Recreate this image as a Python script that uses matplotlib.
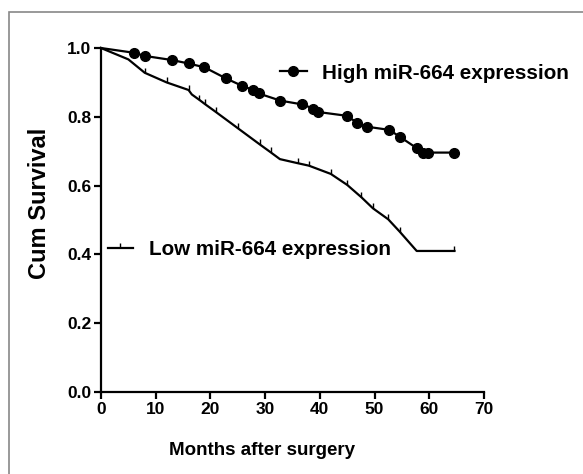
import matplotlib
matplotlib.use("Agg")
import matplotlib.pyplot as plt
from matplotlib.path import Path
from matplotlib.patches import Rectangle

plt.rcParams['font.family'] = ['Liberation Sans', 'DejaVu Sans']
plt.rcParams['font.weight'] = 'bold'

# High miR-664 expression (all follow-up points censored, drawn as dots)
high_x = [0, 6.1, 8.0, 13.0, 16.0, 18.9, 22.8, 25.8, 27.8, 28.8, 32.8, 36.8,
          38.8, 39.7, 44.9, 46.8, 48.7, 52.7, 54.7, 57.7, 58.9, 59.7, 64.6]
high_y = [1.0, 0.986, 0.977, 0.965, 0.955, 0.944, 0.912, 0.890, 0.878, 0.868,
          0.847, 0.836, 0.824, 0.814, 0.803, 0.783, 0.771, 0.762, 0.741,
          0.709, 0.696, 0.696, 0.696]

# Low miR-664 expression, with censor flags for the small tick marks
low_x = [0, 5, 8, 12, 16, 16.6, 18, 19, 21, 25, 29, 31, 32.7, 36, 38, 42,
         45, 47.6, 49.7, 52.5, 54.6, 57.7, 64.6]
low_y = [1.0, 0.967, 0.928, 0.900, 0.878, 0.865, 0.849, 0.837, 0.814, 0.767,
         0.720, 0.697, 0.677, 0.665, 0.658, 0.634, 0.602, 0.566, 0.534,
         0.502, 0.466, 0.410, 0.410]
low_cens = [False, False, True, True, True, False, True, True, True, True,
            True, True, False, True, True, True, True, True, True, True,
            True, False, True]

xticks = [0, 10, 20, 30, 40, 50, 60, 70]
yticks = [0.0, 0.2, 0.4, 0.6, 0.8, 1.0]

# censor tick: short vertical stroke standing up from the line
tick_mark = Path([(0, 0), (0, 1)], [Path.MOVETO, Path.LINETO])

fig = plt.figure(figsize=(5.83, 4.74), dpi=100)
ax = fig.add_axes([0.1732, 0.173, 0.657, 0.7257])

high_line, = ax.plot(high_x, high_y, color='black', lw=1.6,
                     marker='o', markersize=7, markevery=list(range(1, len(high_x))),
                     clip_on=False)
cens_idx = [i for i, c in enumerate(low_cens) if c]
low_line, = ax.plot(low_x, low_y, color='black', lw=1.6,
                    marker=tick_mark, markersize=7, markeredgewidth=1.0,
                    markevery=cens_idx, clip_on=False)

ax.set_xlim(0, 70)
ax.set_ylim(0, 1.0)
ax.set_xticks(xticks)
ax.set_yticks(yticks)
ax.set_yticklabels([f"{v:.1f}" for v in yticks])
for s in ['top', 'right']:
    ax.spines[s].set_visible(False)
for s in ['left', 'bottom']:
    ax.spines[s].set_linewidth(1.6)
ax.tick_params(width=1.6, length=5, labelsize=12.5, pad=2)
for lab in ax.get_xticklabels() + ax.get_yticklabels():
    lab.set_fontweight('bold')

ax.set_xlabel("Months after surgery", fontsize=13.5, fontweight='bold')
ax.xaxis.set_label_coords(0.42, -0.146)
ax.set_ylabel("Cum Survival", fontsize=17, fontweight='bold')
ax.yaxis.set_label_coords(-0.131, 0.547)

# legends
h_leg_line, = ax.plot([], [], color='black', lw=1.6, marker='o', markersize=7)
l_leg_line, = ax.plot([], [], color='black', lw=1.6, marker=tick_mark,
                      markersize=7, markeredgewidth=1.0)
leg1 = ax.legend([h_leg_line], ["High miR-664 expression"], loc='center left',
                 bbox_to_anchor=(0.467, 0.927), frameon=False, numpoints=1,
                 prop={'size': 14.9, 'weight': 'bold'}, handlelength=1.3,
                 handletextpad=0.75, borderaxespad=0, borderpad=0)
ax.add_artist(leg1)
ax.legend([l_leg_line], ["Low miR-664 expression"], loc='center left',
          bbox_to_anchor=(0.018, 0.413), frameon=False, numpoints=1,
          prop={'size': 14.9, 'weight': 'bold'}, handlelength=1.2,
          handletextpad=0.8, borderaxespad=0, borderpad=0)

# grey frame around the panel
fig.patches.append(Rectangle((9 / 583, -0.1), 1.2, 1 - 12 / 474 + 0.1,
                             transform=fig.transFigure, fill=False,
                             edgecolor='#888888', lw=1.2))

plt.savefig('out.png', dpi=100)
